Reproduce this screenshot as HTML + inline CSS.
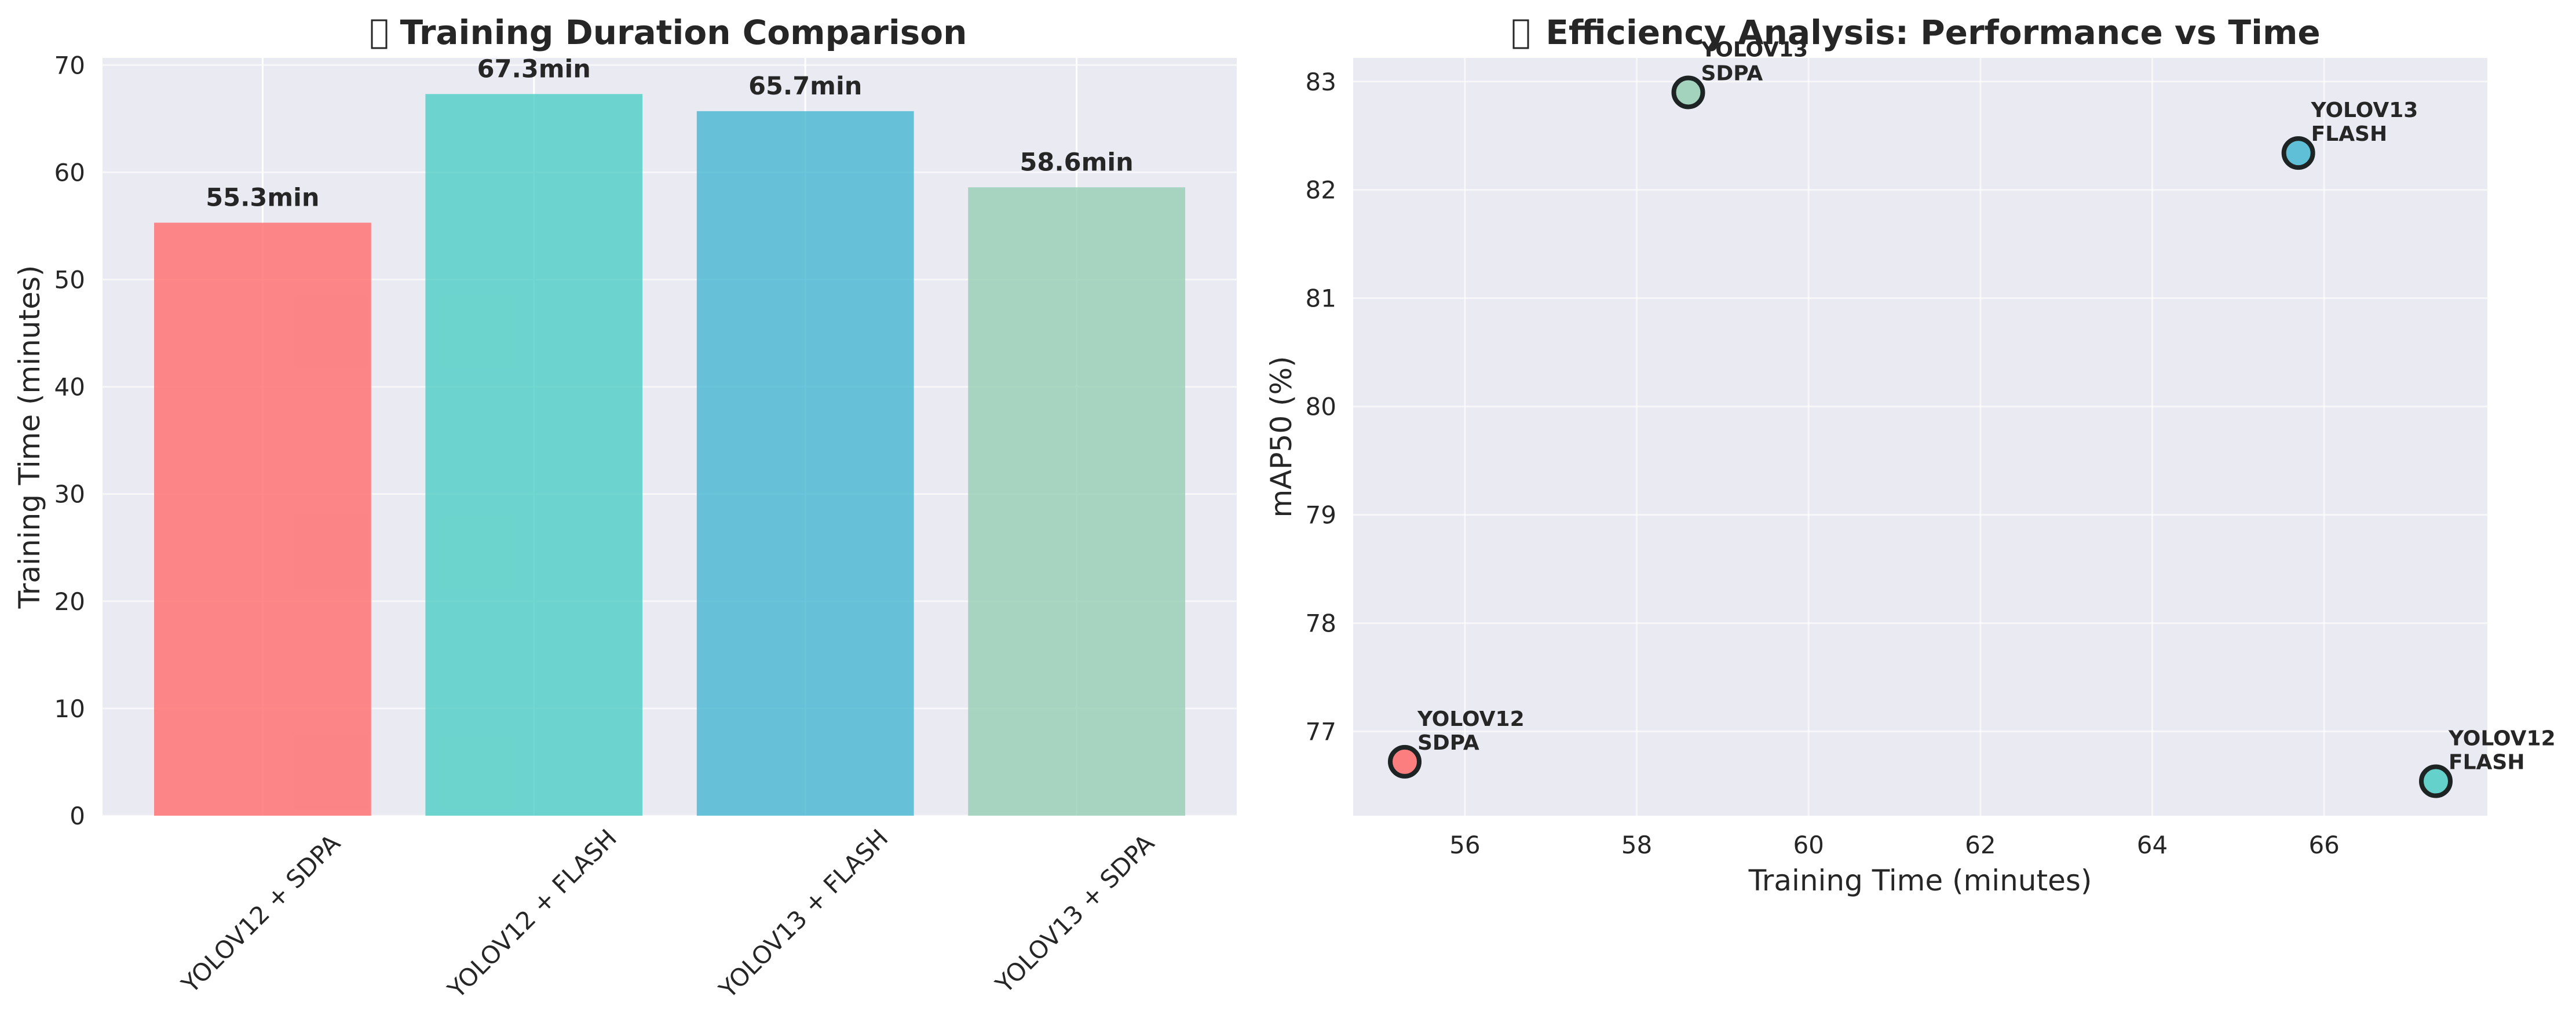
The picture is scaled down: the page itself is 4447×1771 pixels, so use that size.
<!DOCTYPE html>
<html><head><meta charset="utf-8"><style>
html,body{margin:0;padding:0;background:#fff}
svg{display:block}
text{font-family:"DejaVu Sans","Liberation Sans",sans-serif;fill:#262626}
</style></head><body>
<svg id="chart" width="4447" height="1771" viewBox="0 0 4447 1771" xmlns="http://www.w3.org/2000/svg">
<rect width="4447" height="1771" fill="#fff"/>
<g id="left"></g>
<g id="right"></g>
</svg>
<script>
const barCategories = ["YOLOV12 + SDPA","YOLOV12 + FLASH","YOLOV13 + FLASH","YOLOV13 + SDPA"];
const barValues = [55.3, 67.3, 65.7, 58.6];
const barColors = ["#FF6B6B","#4ECDC4","#45B7D1","#96CEB4"];
const barYTicks = [0,10,20,30,40,50,60,70];

const scatterLabels = [["YOLOV12","SDPA"],["YOLOV12","FLASH"],["YOLOV13","FLASH"],["YOLOV13","SDPA"]];
const scatterTime = [55.3, 67.3, 65.7, 58.6];
const scatterMap = [76.72, 76.54, 82.34, 82.90];
const scatterXTicks = [56,58,60,62,64,66];
const scatterYTicks = [77,78,79,80,81,82,83];

const NS = "http://www.w3.org/2000/svg";
function mk(parent, tag, attrs, txt){
  const e = document.createElementNS(NS, tag);
  for (const k in attrs) e.setAttribute(k, attrs[k]);
  if (txt !== undefined) e.textContent = txt;
  parent.appendChild(e);
  return e;
}

/* ---------- Left: bar chart ---------- */
(function(){
  const g = document.getElementById('left');
  const L=177, R=2135, T=100, B=1408;
  const yMax = Math.max(...barValues)*1.05;
  const y = v => B - v/yMax*(B-T);
  const xMin=-0.59, xMax=barCategories.length-1+0.59;
  const x = i => L + (i-xMin)/(xMax-xMin)*(R-L);
  const bw = 0.8*(R-L)/(xMax-xMin);

  const bg = mk(g,'rect',{x:L,y:T,width:R-L,height:B-T,fill:'#EAEAF2'});
  
  

  barYTicks.forEach(t=>{
    const gl = mk(g,'line',{x1:L,x2:R,y1:y(t),y2:y(t),stroke:'#fff','stroke-width':3,'stroke-opacity':0.6});
    
    
    const tl = mk(g,'text',{x:L-30,y:y(t)+15,'text-anchor':'end','font-size':42},String(t));
    
    
  });
  barCategories.forEach((c,i)=>{
    const gl = mk(g,'line',{x1:x(i),x2:x(i),y1:T,y2:B,stroke:'#fff','stroke-width':3});
    
    
  });
  barCategories.forEach((c,i)=>{
    const v = barValues[i];
    const r = mk(g,'rect',{x:x(i)-bw/2,y:y(v),width:bw,height:B-y(v),fill:barColors[i],'fill-opacity':0.8});
    
    
    const vl = mk(g,'text',{x:x(i),y:y(v)-29,'text-anchor':'middle','font-size':43,'font-weight':'bold'},v.toFixed(1)+'min');
    
    
    const cx = x(i)-3, cy = 1577;
    const xl = mk(g,'text',{x:cx,y:cy,'text-anchor':'middle','dominant-baseline':'central','font-size':42,transform:`rotate(-45 ${cx} ${cy})`},c);
    
    
  });
  const yl = mk(g,'text',{x:0,y:0,'text-anchor':'middle','font-size':50,transform:`translate(68 ${(T+B)/2}) rotate(-90)`},'Training Time (minutes)');
  
  
  const tb = mk(g,'rect',{x:642,y:35,width:25,height:48,fill:'none',stroke:'#262626','stroke-width':3});
  
  
  const tt = mk(g,'text',{x:1180,y:76,'text-anchor':'middle','font-size':58,'font-weight':'bold'},'Training Duration Comparison');
  
  
})();

/* ---------- Right: scatter ---------- */
(function(){
  const g = document.getElementById('right');
  const L=2336, R=4294, T=100, B=1408;
  const tx0=Math.min(...scatterTime), tx1=Math.max(...scatterTime);
  const my0=Math.min(...scatterMap), my1=Math.max(...scatterMap);
  const xMin=tx0-0.05*(tx1-tx0), xMax=tx1+0.05*(tx1-tx0);
  const yMin=my0-0.05*(my1-my0), yMax=my1+0.05*(my1-my0);
  const x = v => L + (v-xMin)/(xMax-xMin)*(R-L);
  const y = v => B - (v-yMin)/(yMax-yMin)*(B-T);

  const bg = mk(g,'rect',{x:L,y:T,width:R-L,height:B-T,fill:'#EAEAF2'});
  
  

  scatterXTicks.forEach(t=>{
    const gl = mk(g,'line',{x1:x(t),x2:x(t),y1:T,y2:B,stroke:'#fff','stroke-width':3,'stroke-opacity':0.6});
    
    
    const tl = mk(g,'text',{x:x(t),y:1473,'text-anchor':'middle','font-size':42},String(t));
    
    
  });
  scatterYTicks.forEach(t=>{
    const gl = mk(g,'line',{x1:L,x2:R,y1:y(t),y2:y(t),stroke:'#fff','stroke-width':3,'stroke-opacity':0.6});
    
    
    const tl = mk(g,'text',{x:L-29,y:y(t)+15,'text-anchor':'end','font-size':42},String(t));
    
    
  });
  scatterTime.forEach((t,i)=>{
    const px=x(t), py=y(scatterMap[i]);
    const c = mk(g,'circle',{cx:px,cy:py,r:25,fill:barColors[i],'fill-opacity':0.85,stroke:'#1e2424','stroke-width':8});
    
    
    const a = mk(g,'text',{x:px+22,y:py-62,'font-size':36,'font-weight':'bold'});
    
    
    mk(a,'tspan',{x:px+22,y:py-62},scatterLabels[i][0]);
    mk(a,'tspan',{x:px+22,y:py-21},scatterLabels[i][1]);
  });
  const xl = mk(g,'text',{x:(L+R)/2,y:1537,'text-anchor':'middle','font-size':50},'Training Time (minutes)');
  
  
  const yl = mk(g,'text',{x:0,y:0,'text-anchor':'middle','font-size':50,transform:`translate(2229 ${(T+B)/2}) rotate(-90)`},'mAP50 (%)');
  
  
  const tb = mk(g,'rect',{x:2613,y:35,width:25,height:48,fill:'none',stroke:'#262626','stroke-width':3});
  
  
  const tt = mk(g,'text',{x:3337,y:76,'text-anchor':'middle','font-size':58,'font-weight':'bold'},'Efficiency Analysis: Performance vs Time');
  
  
})();
</script>
</body></html>
